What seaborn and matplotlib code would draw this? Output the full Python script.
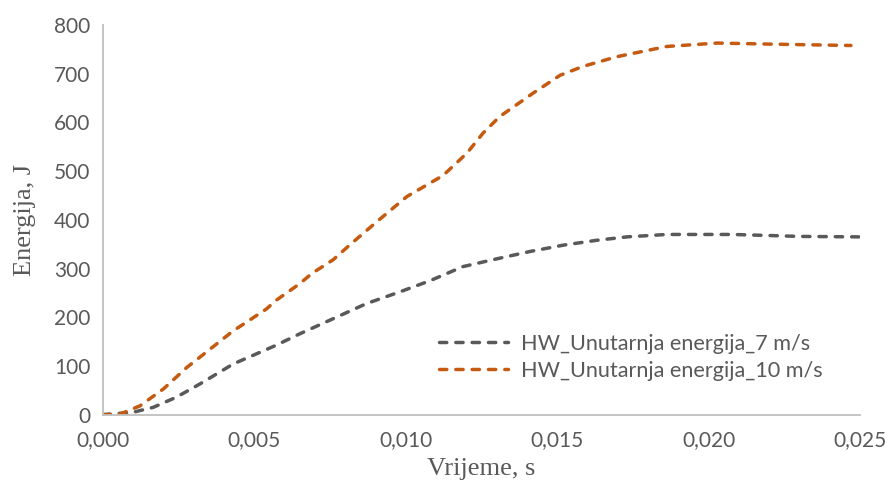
import matplotlib
matplotlib.use("Agg")
import matplotlib.pyplot as plt
import seaborn as sns
import pandas as pd
from matplotlib.lines import Line2D

# Internal energy over time, two impact speeds
t_7 = [0.0, 0.001, 0.00166, 0.00243, 0.0032, 0.0043, 0.0057, 0.0065, 0.0076, 0.0087,
       0.0098, 0.0108, 0.01189, 0.01301, 0.0141, 0.0152, 0.0163, 0.0173,
       0.01862, 0.0208, 0.023, 0.025]
e_7 = [0, 5, 15, 36, 63, 104, 142, 166, 197, 228, 252, 275, 304, 320, 335, 348, 358,
       365, 370, 370, 366, 365]

t_10 = [0.0, 0.00056, 0.00122, 0.002, 0.00277, 0.0032, 0.0043, 0.0054, 0.0057, 0.0065,
        0.0069, 0.0076, 0.00816, 0.00904, 0.01004, 0.01123, 0.01202, 0.01255, 0.0131,
        0.0142, 0.0151, 0.01585, 0.01697, 0.01862, 0.02028, 0.0219, 0.0247]
e_10 = [0, 1, 18, 53, 97, 118, 172, 217, 234, 269, 290, 318, 349, 396, 448, 491, 537,
        578, 612, 660, 697, 715, 735, 756, 763, 761, 758]

label_7 = "HW_Unutarnja energija_7 m/s"
label_10 = "HW_Unutarnja energija_10 m/s"

x_ticks = [0.000, 0.005, 0.010, 0.015, 0.020, 0.025]
x_tick_labels = ["0,000", "0,005", "0,010", "0,015", "0,020", "0,025"]
y_ticks = [0, 100, 200, 300, 400, 500, 600, 700, 800]

df = pd.concat([
    pd.DataFrame({"t": t_7, "E": e_7, "serija": label_7}),
    pd.DataFrame({"t": t_10, "E": e_10, "serija": label_10}),
], ignore_index=True)

sns.set_theme(style="white")
plt.rcParams["font.family"] = ["Lato", "DejaVu Sans"]

fig = plt.figure(figsize=(8.9, 4.91), dpi=100)
ax = fig.add_axes([0.1157, 0.1555, 0.8506, 0.7935])

palette = {label_7: "#595959", label_10: "#C55A11"}
dash = (2.1, 2.6)
lw = 2.5
sns.lineplot(data=df, x="t", y="E", hue="serija", style="serija",
             palette=palette, dashes={label_7: dash, label_10: dash},
             linewidth=lw, sort=False, estimator=None, ax=ax, legend=False)
for ln in ax.lines:
    ln.set_dash_capstyle("round")
    ln.set_dash_joinstyle("round")

ax.set_xlim(0, 0.025)
ax.set_ylim(0, 800)
ax.set_xticks(x_ticks)
ax.set_xticklabels(x_tick_labels)
ax.set_yticks(y_ticks)
ax.tick_params(axis="both", length=0, labelsize=15, labelcolor="#595959", pad=9)
ax.tick_params(axis="x", pad=11)

for side in ["top", "right"]:
    ax.spines[side].set_visible(False)
for side in ["left", "bottom"]:
    ax.spines[side].set_color("#BFBFBF")
    ax.spines[side].set_linewidth(1.3)

serif = ["Liberation Serif", "DejaVu Serif"]
ax.set_xlabel("Vrijeme, s", fontsize=19, family=serif, color="#595959", labelpad=6)
ax.set_ylabel("Energija, J", fontsize=19, family=serif, color="#595959", labelpad=13)

handles = [Line2D([], [], color=palette[lab], linewidth=lw, linestyle=(0, dash),
                  dash_capstyle="round") for lab in (label_7, label_10)]
leg = fig.legend(handles, [label_7, label_10], loc="upper left",
                 bbox_to_anchor=(439 / 890, 1 - 334 / 491), frameon=False,
                 fontsize=15.6, borderpad=0, borderaxespad=0,
                 handlelength=3.2, handletextpad=0.6, labelspacing=0.32)
for txt in leg.get_texts():
    txt.set_color("#595959")

fig.savefig("out.png", dpi=100, facecolor="white")
